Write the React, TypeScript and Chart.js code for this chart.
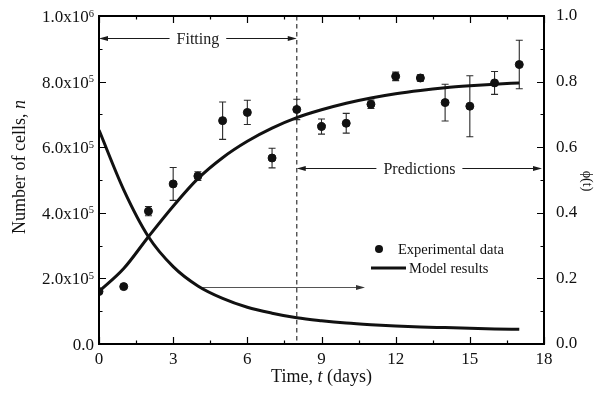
import React, { useEffect, useRef } from 'react';
import { Chart, registerables } from 'chart.js';

Chart.register(...registerables);

// ---- data ----
const days = [0, 1, 2, 3, 4, 5, 6, 7, 8, 9, 10, 11, 12, 13, 14, 15, 16, 17];
const cellMean = [1.6e5, 1.75e5, 4.05e5, 4.88e5, 5.12e5, 6.81e5, 7.06e5, 5.67e5, 7.15e5, 6.63e5, 6.73e5, 7.31e5, 8.16e5, 8.11e5, 7.36e5, 7.25e5, 7.96e5, 8.52e5];
const cellErr = [0, 0, 0.14e5, 0.5e5, 0.13e5, 0.57e5, 0.37e5, 0.3e5, 0.31e5, 0.23e5, 0.3e5, 0.13e5, 0.13e5, 0.1e5, 0.56e5, 0.93e5, 0.35e5, 0.74e5];
const modelCells = [1.6e5, 2.3e5, 3.27e5, 4.2e5, 5.04e5, 5.68e5, 6.18e5, 6.58e5, 6.9e5, 7.14e5, 7.34e5, 7.5e5, 7.63e5, 7.73e5, 7.81e5, 7.87e5, 7.92e5, 7.96e5];
const modelPhi = [0.652, 0.47, 0.327, 0.236, 0.177, 0.139, 0.112, 0.094, 0.08, 0.071, 0.064, 0.059, 0.055, 0.052, 0.05, 0.048, 0.046, 0.045];

const xMin = 0, xMax = 18, xStep = 3, xMinorStep = 1.5;
const yMin = 0, yMax = 1e6, yStep = 2e5, yMinorStep = 1e5;
const y1Min = 0, y1Max = 1, y1Step = 0.2, y1MinorStep = 0.1;

const fitRange = [0, 8];
const fitLevel = 9.33e5;
const predRange = [8, 17.92];
const predLevel = 5.37e5;
const phiArrowRange = [4.15, 10.76];
const phiArrowLevel = 1.75e5;
const splitDay = 8;

const FONT = '"Liberation Serif", "Times New Roman", serif';

function arrowHead(ctx: CanvasRenderingContext2D, x: number, y: number, dir: number) {
  ctx.beginPath();
  ctx.moveTo(x, y);
  ctx.lineTo(x - dir * 9, y - 2.6);
  ctx.lineTo(x - dir * 9, y + 2.6);
  ctx.closePath();
  ctx.fill();
}

const decorPlugin = {
  id: 'decor',
  beforeDatasetsDraw(chart: any) {
    const ctx = chart.ctx as CanvasRenderingContext2D;
    const x = chart.scales.x, y = chart.scales.y;
    const ca = chart.chartArea;
    ctx.save();
    // dashed split line
    ctx.strokeStyle = '#333';
    ctx.lineWidth = 1.2;
    ctx.setLineDash([4.5, 3.5]);
    const sx = x.getPixelForValue(splitDay);
    ctx.beginPath();
    ctx.moveTo(sx, ca.top);
    ctx.lineTo(sx, ca.bottom);
    ctx.stroke();
    ctx.setLineDash([]);
    // error bars
    ctx.strokeStyle = '#2a2a2a';
    ctx.lineWidth = 1.1;
    for (let i = 0; i < days.length; i++) {
      if (!cellErr[i]) continue;
      const px = x.getPixelForValue(days[i]);
      const hi = y.getPixelForValue(cellMean[i] + cellErr[i]);
      const lo = y.getPixelForValue(cellMean[i] - cellErr[i]);
      ctx.beginPath();
      ctx.moveTo(px, hi); ctx.lineTo(px, lo);
      ctx.moveTo(px - 3.5, hi); ctx.lineTo(px + 3.5, hi);
      ctx.moveTo(px - 3.5, lo); ctx.lineTo(px + 3.5, lo);
      ctx.stroke();
    }
    // annotation arrows
    ctx.fillStyle = '#1a1a1a';
    ctx.strokeStyle = '#1a1a1a';
    ctx.lineWidth = 1;
    ctx.font = `16px ${FONT}`;
    ctx.textBaseline = 'middle';
    ctx.textAlign = 'center';
    const drawDouble = (range: number[], level: number, label: string) => {
      const x0 = x.getPixelForValue(range[0]);
      const x1 = x.getPixelForValue(range[1]);
      const py = Math.round(y.getPixelForValue(level)) + 0.5;
      const cx = (x0 + x1) / 2;
      const w = ctx.measureText(label).width;
      ctx.beginPath();
      ctx.moveTo(x0 + 2, py); ctx.lineTo(cx - w / 2 - 7, py);
      ctx.moveTo(cx + w / 2 + 7, py); ctx.lineTo(x1 - 2, py);
      ctx.stroke();
      arrowHead(ctx, x0, py, -1);
      arrowHead(ctx, x1, py, 1);
      ctx.fillText(label, cx, py + 1);
    };
    drawDouble(fitRange, fitLevel, 'Fitting');
    drawDouble(predRange, predLevel, 'Predictions');
    // phi arrow
    ctx.strokeStyle = '#555';
    ctx.fillStyle = '#333';
    const ax0 = x.getPixelForValue(phiArrowRange[0]);
    const ax1 = x.getPixelForValue(phiArrowRange[1]);
    const ay = Math.round(y.getPixelForValue(phiArrowLevel)) + 0.5;
    ctx.beginPath();
    ctx.moveTo(ax0, ay); ctx.lineTo(ax1 - 4, ay);
    ctx.stroke();
    arrowHead(ctx, ax1, ay, 1);
    ctx.restore();
  },
  afterDraw(chart: any) {
    const ctx = chart.ctx as CanvasRenderingContext2D;
    const x = chart.scales.x, y = chart.scales.y, y1 = chart.scales.y1;
    const ca = chart.chartArea;
    ctx.save();
    // frame
    ctx.strokeStyle = '#000';
    ctx.lineWidth = 2;
    ctx.strokeRect(ca.left, ca.top, ca.right - ca.left, ca.bottom - ca.top);
    // ticks
    ctx.lineWidth = 1.2;
    ctx.beginPath();
    for (let v = xMin; v <= xMax + 1e-9; v += xMinorStep) {
      const major = Math.abs(v / xStep - Math.round(v / xStep)) < 1e-6;
      const len = major ? 7 : 3.5;
      const px = Math.round(x.getPixelForValue(v)) + 0.5;
      ctx.moveTo(px, ca.bottom); ctx.lineTo(px, ca.bottom - len);
      ctx.moveTo(px, ca.top); ctx.lineTo(px, ca.top + len);
    }
    for (let v = yMin; v <= yMax + 1; v += yMinorStep) {
      const major = Math.abs(v / yStep - Math.round(v / yStep)) < 1e-6;
      const len = major ? 7 : 3.5;
      const py = Math.round(y.getPixelForValue(v)) + 0.5;
      ctx.moveTo(ca.left, py); ctx.lineTo(ca.left + len, py);
    }
    for (let v = y1Min; v <= y1Max + 1e-9; v += y1MinorStep) {
      const major = Math.abs(v / y1Step - Math.round(v / y1Step)) < 1e-6;
      const len = major ? 7 : 3.5;
      const py = Math.round(y1.getPixelForValue(v)) + 0.5;
      ctx.moveTo(ca.right, py); ctx.lineTo(ca.right - len, py);
    }
    ctx.stroke();

    // left tick labels with superscripts
    ctx.fillStyle = '#111';
    ctx.textBaseline = 'alphabetic';
    ctx.textAlign = 'left';
    for (const t of y.ticks) {
      const v = t.value;
      const py = y.getPixelForValue(v);
      const base = py + 6;
      const right = ca.left - 5;
      if (v === 0) {
        ctx.font = `17px ${FONT}`;
        const w = ctx.measureText('0.0').width;
        ctx.fillText('0.0', right - w, base);
        continue;
      }
      const e = Math.floor(Math.log10(v) + 1e-9);
      const m = (v / Math.pow(10, e)).toFixed(1);
      const main = `${m}x10`;
      const sup = `${e}`;
      ctx.font = `10.5px ${FONT}`;
      const ws = ctx.measureText(sup).width;
      ctx.font = `17px ${FONT}`;
      const wm = ctx.measureText(main).width;
      ctx.fillText(main, right - ws - wm, base);
      ctx.font = `10.5px ${FONT}`;
      ctx.fillText(sup, right - ws, base - 5.5);
    }
    // bottom tick labels
    ctx.font = `17px ${FONT}`;
    ctx.textAlign = 'center';
    for (const t of x.ticks) {
      const px = x.getPixelForValue(t.value);
      ctx.fillText(String(t.value), px, ca.bottom + 20);
    }

    // axis titles
    ctx.fillStyle = '#111';
    const drawParts = (parts: { t: string; f: string }[], cx: number, base: number) => {
      let total = 0;
      for (const p of parts) { ctx.font = p.f; total += ctx.measureText(p.t).width; }
      let cur = cx - total / 2;
      ctx.textAlign = 'left';
      for (const p of parts) {
        ctx.font = p.f;
        ctx.fillText(p.t, cur, base);
        cur += ctx.measureText(p.t).width;
      }
    };
    drawParts([
      { t: 'Time, ', f: `18px ${FONT}` },
      { t: 't', f: `italic 18px ${FONT}` },
      { t: ' (days)', f: `18px ${FONT}` },
    ], (ca.left + ca.right) / 2, 382);
    // left
    ctx.save();
    ctx.translate(25, 167);
    ctx.rotate(-Math.PI / 2);
    drawParts([
      { t: 'Number of cells, ', f: `18px ${FONT}` },
      { t: 'n', f: `italic 18px ${FONT}` },
    ], 0, 0);
    ctx.restore();
    // right
    ctx.save();
    ctx.translate(583, 181);
    ctx.rotate(Math.PI / 2);
    drawParts([{ t: '\u03D5(t)', f: `14px ${FONT}` }], 0, 0);
    ctx.restore();

    // legend
    const lx = ca.left + 280;
    const ly = 249;
    ctx.beginPath();
    ctx.arc(lx, ly, 4, 0, Math.PI * 2);
    ctx.fill();
    ctx.font = `14.5px ${FONT}`;
    ctx.textBaseline = 'middle';
    ctx.textAlign = 'left';
    ctx.fillText('Experimental data', lx + 19, ly + 1);
    ctx.strokeStyle = '#111';
    ctx.lineWidth = 3;
    ctx.beginPath();
    ctx.moveTo(lx - 8, ly + 19);
    ctx.lineTo(lx + 27, ly + 19);
    ctx.stroke();
    ctx.fillText('Model results', lx + 30, ly + 20);
    ctx.restore();
  },
};

export default function App() {
  const ref = useRef<HTMLCanvasElement>(null);
  useEffect(() => {
    if (!ref.current) return;
    const chart = new Chart(ref.current, {
      type: 'scatter',
      data: {
        datasets: [
          {
            label: 'Experimental data',
            data: days.map((d, i) => ({ x: d, y: cellMean[i] })),
            backgroundColor: '#111',
            borderColor: '#111',
            pointRadius: 4,
            pointHoverRadius: 4,
            showLine: false,
            yAxisID: 'y',
          },
          {
            label: 'Model results',
            data: days.map((d, i) => ({ x: d, y: modelCells[i] })),
            borderColor: '#111',
            borderWidth: 3,
            pointRadius: 0,
            showLine: true,
            cubicInterpolationMode: 'monotone',
            yAxisID: 'y',
          },
          {
            label: 'phi',
            data: days.map((d, i) => ({ x: d, y: modelPhi[i] })),
            borderColor: '#111',
            borderWidth: 3,
            pointRadius: 0,
            showLine: true,
            cubicInterpolationMode: 'monotone',
            yAxisID: 'y1',
          },
        ],
      },
      options: {
        responsive: false,
        animation: false,
        layout: { padding: { top: 16, left: 0, right: 0, bottom: 0 } },
        plugins: { legend: { display: false }, tooltip: { enabled: false } },
        scales: {
          x: {
            type: 'linear',
            position: 'bottom',
            min: xMin,
            max: xMax,
            grid: { display: false },
            border: { display: false },
            ticks: { stepSize: xStep, display: false },
            afterFit: (s: any) => { s.height = 52; },
          },
          y: {
            type: 'linear',
            position: 'left',
            min: yMin,
            max: yMax,
            grid: { display: false },
            border: { display: false },
            ticks: { stepSize: yStep, display: false },
            afterFit: (s: any) => { s.width = 99; },
          },
          y1: {
            type: 'linear',
            position: 'right',
            min: y1Min,
            max: y1Max,
            grid: { display: false },
            border: { display: false },
            ticks: {
              stepSize: y1Step,
              color: '#111',
              padding: 4,
              font: { family: FONT, size: 17 },
              callback: (v: any) => Number(v).toFixed(1),
            },
            afterFit: (s: any) => { s.width = 50; },
          },
        },
      },
      plugins: [decorPlugin],
    } as any);
    return () => chart.destroy();
  }, []);
  return (
    <div style={{ position: 'absolute', left: 0, top: 0, width: 594, height: 396, background: '#fff' }}>
      <canvas ref={ref} width={594} height={396} style={{ display: 'block' }} />
    </div>
  );
}
